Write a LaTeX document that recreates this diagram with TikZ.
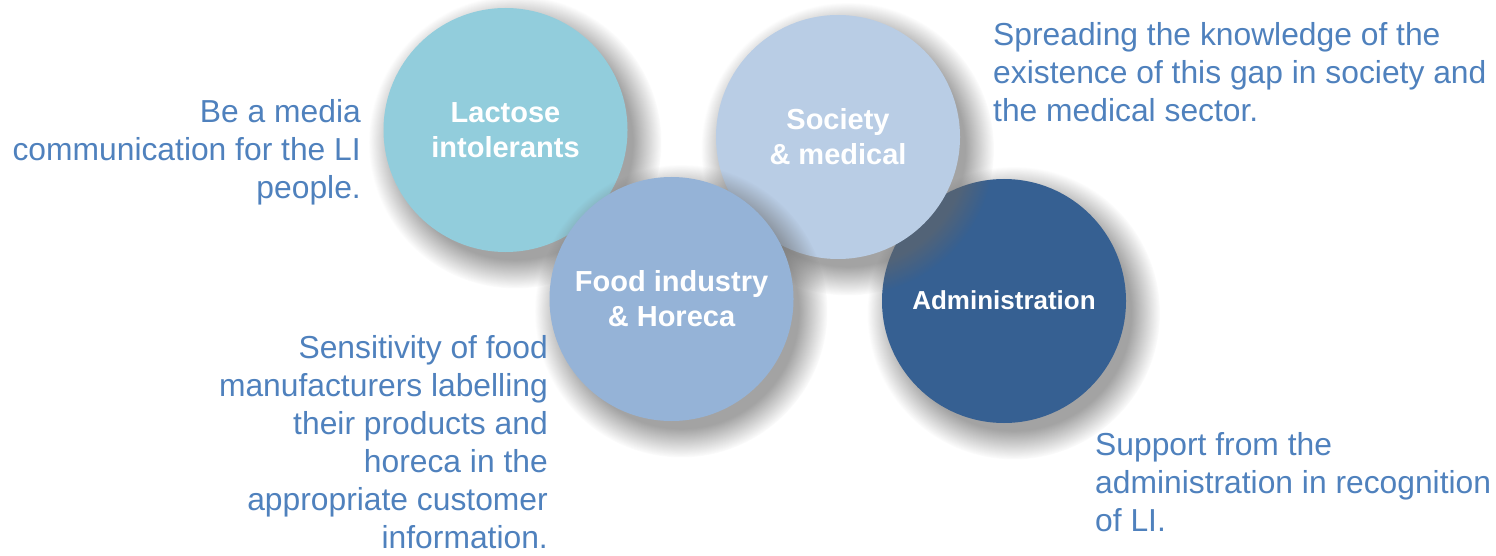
\documentclass[tikz,border=0pt]{standalone}
\usepackage{fontspec}
\setmainfont{Liberation Sans}
\usetikzlibrary{shadows,fadings}
\definecolor{cLac}{HTML}{92CDDC}
\definecolor{cSoc}{HTML}{B9CDE5}
\definecolor{cFood}{HTML}{95B3D7}
\definecolor{cAdm}{HTML}{366092}
\definecolor{cTxt}{HTML}{4F81BD}
\tikzset{
  bubble/.style={circle, minimum size=244pt, inner sep=0pt, text=white, align=center,
    font=\fontsize{29}{35}\selectfont\bfseries,
    circular drop shadow={shadow scale=1.2, shadow xshift=8pt, shadow yshift=-10pt, opacity=0.6, fill=black!60,
      path fading={circle with fuzzy edge 20 percent}}},
  para/.style={inner sep=0pt, text=cTxt, font=\fontsize{31.8}{38}\selectfont}
}
\begin{document}
\begin{tikzpicture}[x=1pt,y=-1pt]
\useasboundingbox (0,0) rectangle (1496,556);
\node[bubble, fill=cLac] (lac) at (505.5,130) {Lactose\\intolerants};
\node[bubble, fill=cAdm, font=\fontsize{26}{31}\selectfont\bfseries, text depth=2pt] (adm) at (1004,301) {Administration};
\node[bubble, fill=cSoc] (soc) at (838,137) {Society\\\& medical};
\node[bubble, fill=cFood] (food) at (671.5,299) {Food industry\\\& Horeca};
\node[para, align=right, anchor=base east] (plac) at (361,199) {Be a media\\communication for the LI\\people.};
\node[para, align=left, anchor=base west] (psoc) at (993,122) {Spreading the knowledge of the\\existence of this gap in society and\\the medical sector.};
\node[para, align=right, anchor=base east] (pfood) at (548,548) {Sensitivity of food\\manufacturers labelling\\their products and\\horeca in the\\appropriate customer\\information.};
\node[para, align=left, anchor=base west] (padm) at (1095,531) {Support from the\\administration in recognition\\of LI.};
\end{tikzpicture}
\end{document}
